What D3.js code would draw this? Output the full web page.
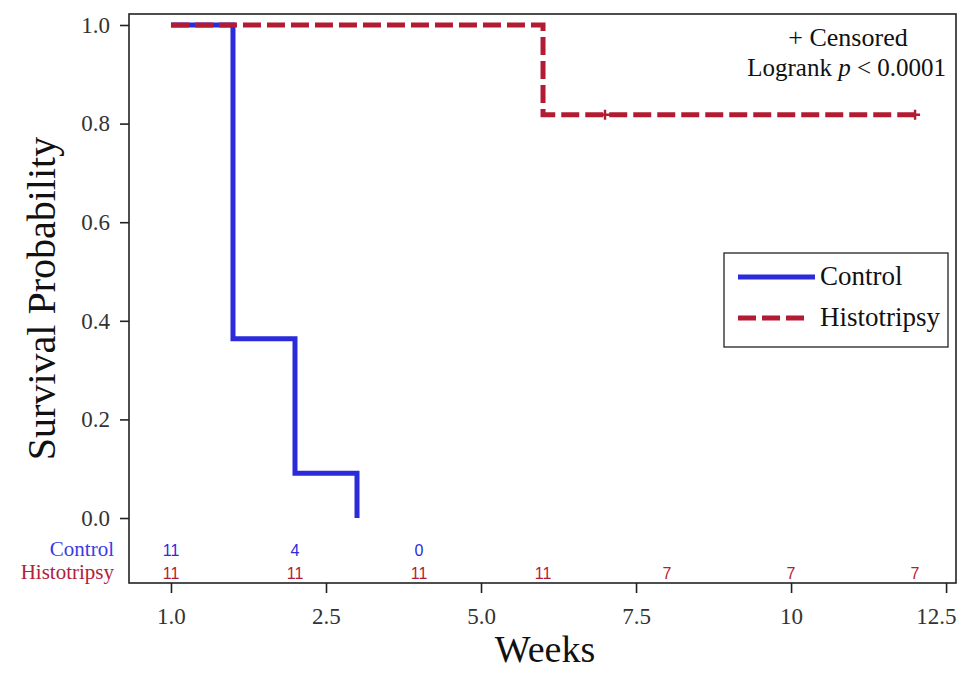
<!DOCTYPE html>
<html>
<head>
<meta charset="utf-8">
<script src="https://cdn.jsdelivr.net/npm/d3@7"></script>
<style>
  body { margin: 0; background: #fff; }
  text { font-family: "Liberation Serif", serif; }
</style>
</head>
<body>
<div id="chart"></div>
<script>
// survival data (weeks, probability)
const controlTimes = [0, 1, 2, 3];
const controlSurv = [1, 0.3636, 0.0909, 0];
const histoTimes = [0, 6, 12];
const histoSurv = [1, 0.818, 0.818];
const histoCensorTimes = [7, 12];
const histoCensorSurv = [0.818, 0.818];

// number at risk
const riskTimes = [0, 2, 4, 6, 8, 10, 12];
const controlRisk = [11, 4, 0];
const histoRisk = [11, 11, 11, 11, 7, 7, 7];

const xTicks = [0, 2.5, 5, 7.5, 10, 12.5];
const xTickLabels = ["1.0", "2.5", "5.0", "7.5", "10", "12.5"];
const yTicks = [0, 0.2, 0.4, 0.6, 0.8, 1.0];

const width = 961, height = 673;
const margin = { top: 14, right: 5, bottom: 90, left: 129 };
const blue = "#2b2bdb", red = "#b31b32";

const svg = d3.select("#chart").append("svg")
  .attr("width", width)
  .attr("height", height);

const x = d3.scaleLinear()
  .domain([-0.677, 12.66])
  .range([margin.left, width - margin.right]);

const y = d3.scaleLinear()
  .domain([-0.1318, 1.0223])
  .range([height - margin.bottom, margin.top]);

const bottom = height - margin.bottom;

// frame
svg.append("rect")
  .attr("x", margin.left)
  .attr("y", margin.top)
  .attr("width", width - margin.left - margin.right)
  .attr("height", bottom - margin.top)
  .attr("fill", "none")
  .attr("stroke", "#222")
  .attr("stroke-width", 1.6);

// axes
const yAxis = svg.append("g")
  .attr("transform", `translate(${margin.left},0)`)
  .call(d3.axisLeft(y).tickValues(yTicks).tickFormat(d3.format(".1f"))
    .tickSize(9).tickPadding(10));

const xAxis = svg.append("g")
  .attr("transform", `translate(0,${bottom})`)
  .call(d3.axisBottom(x).tickValues(xTicks).tickFormat((d, i) => xTickLabels[i])
    .tickSize(10).tickPadding(15));

[yAxis, xAxis].forEach(g => {
  g.select(".domain").remove();
  g.selectAll(".tick line").attr("stroke", "#222").attr("stroke-width", 1.6);
  g.selectAll(".tick text")
    .attr("fill", "#333")
    .style("font-family", "Liberation Serif, serif")
    .style("font-size", "23px");
});
// last x label would clip at the frame edge: align it right
xAxis.selectAll(".tick text").filter((d, i) => i === xTicks.length - 1)
  .attr("text-anchor", "end")
  .attr("x", (width - margin.right) - x(xTicks[xTicks.length - 1]));

// axis titles
svg.append("text")
  .attr("transform", `translate(55,${(margin.top + bottom) / 2}) rotate(-90)`)
  .attr("text-anchor", "middle")
  .attr("fill", "#111")
  .style("font-size", "40px")
  .text("Survival Probability");

svg.append("text")
  .attr("x", 545)
  .attr("y", 662)
  .attr("text-anchor", "middle")
  .attr("fill", "#111")
  .style("font-size", "38px")
  .text("Weeks");

// curves
const line = d3.line()
  .x(d => x(d[0]))
  .y(d => y(d[1]))
  .curve(d3.curveStepAfter);

svg.append("path")
  .datum(d3.zip(controlTimes, controlSurv))
  .attr("d", line)
  .attr("fill", "none")
  .attr("stroke", blue)
  .attr("stroke-width", 5);

svg.append("path")
  .datum(d3.zip(histoTimes, histoSurv))
  .attr("d", line)
  .attr("fill", "none")
  .attr("stroke", red)
  .attr("stroke-width", 5)
  .attr("stroke-dasharray", "18,6");

// censor marks
svg.selectAll(".censor")
  .data(d3.zip(histoCensorTimes, histoCensorSurv))
  .enter()
  .append("path")
  .attr("class", "censor")
  .attr("transform", d => `translate(${x(d[0])},${y(d[1])})`)
  .attr("d", "M-5,0H5M0,-5V5")
  .attr("stroke", red)
  .attr("stroke-width", 2.4);

// annotation
svg.append("text")
  .attr("x", 848)
  .attr("y", 46)
  .attr("text-anchor", "middle")
  .attr("fill", "#111")
  .style("font-size", "26px")
  .text("+ Censored");

const lr = svg.append("text")
  .attr("x", 946)
  .attr("y", 76)
  .attr("text-anchor", "end")
  .attr("fill", "#111")
  .style("font-size", "25px");
lr.append("tspan").text("Logrank ");
lr.append("tspan").style("font-style", "italic").text("p");
lr.append("tspan").text(" < 0.0001");

// legend
const legend = svg.append("g");
legend.append("rect")
  .attr("x", 724).attr("y", 253)
  .attr("width", 224).attr("height", 94)
  .attr("fill", "#fff")
  .attr("stroke", "#333")
  .attr("stroke-width", 1.4);

const legendItems = [
  { name: "Control", color: blue, dash: null, y: 277, x2: 815 },
  { name: "Histotripsy", color: red, dash: "18,6", y: 318, x2: 808 }
];
legendItems.forEach(it => {
  legend.append("line")
    .attr("x1", 738).attr("x2", it.x2)
    .attr("y1", it.y).attr("y2", it.y)
    .attr("stroke", it.color)
    .attr("stroke-width", 5)
    .attr("stroke-dasharray", it.dash);
  legend.append("text")
    .attr("x", 820).attr("y", it.y + 8)
    .attr("fill", "#111")
    .style("font-size", "27px")
    .text(it.name);
});

// number at risk table
const riskRows = [
  { name: "Control", values: controlRisk, color: blue, labelColor: "#3a3ae6", y: bottom - 27 },
  { name: "Histotripsy", values: histoRisk, color: red, labelColor: "#b3203a", y: bottom - 4 }
];
riskRows.forEach(row => {
  svg.append("text")
    .attr("x", 114).attr("y", row.y)
    .attr("text-anchor", "end")
    .attr("fill", row.labelColor)
    .style("font-size", "21px")
    .text(row.name);
  svg.selectAll(null)
    .data(row.values)
    .enter()
    .append("text")
    .attr("x", (d, i) => x(riskTimes[i]))
    .attr("y", row.y)
    .attr("text-anchor", "middle")
    .attr("fill", row.color)
    .style("font-family", "Liberation Sans, sans-serif")
    .style("font-size", "16px")
    .text(d => d);
});
</script>
</body>
</html>
